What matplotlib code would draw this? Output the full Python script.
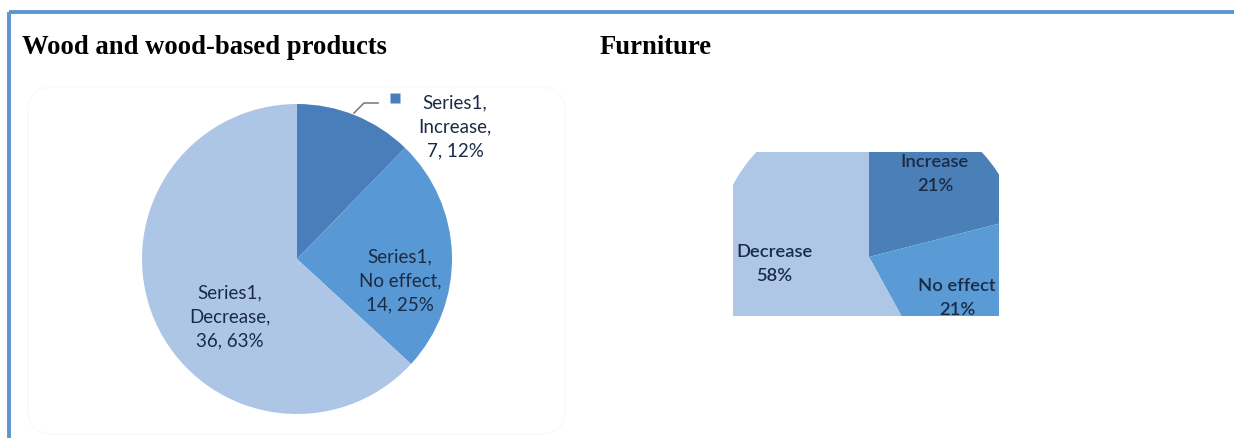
import matplotlib
matplotlib.use("Agg")
import matplotlib.pyplot as plt
from matplotlib.patches import FancyBboxPatch
import numpy as np

W, H = 1234, 439

# ---- data ----
wood_categories = ["Increase", "No effect", "Decrease"]
wood_counts = [7, 14, 36]
wood_pct = [12, 25, 63]
furn_categories = ["Increase", "No effect", "Decrease"]
furn_pct = [21, 21, 58]

titles = ["Wood and wood-based products", "Furniture"]

c_wood = ["#4a7ebb", "#5898d4", "#adc6e6"]
c_furn = ["#4b7fb8", "#5a9bd6", "#aec7e6"]
txt_col = "#1c2b45"
lab_font = ["Lato", "DejaVu Sans"]

def py(y):
    return H - y

fig = plt.figure(figsize=(W / 100, H / 100), dpi=100)
ax = fig.add_axes([0, 0, 1, 1])
ax.set_xlim(0, W)
ax.set_ylim(0, H)
ax.axis("off")

# frame lines
ax.plot([8.5, W], [py(12.5), py(12.5)], color="#5b96d0", lw=2.8, solid_capstyle="butt")
ax.plot([8.5, 8.5], [py(12.5), 0], color="#5b96d0", lw=2.8, solid_capstyle="butt")

# titles
ax.text(22, py(47), titles[0], fontsize=19.2, fontweight="bold",
        family="Liberation Serif", va="center", ha="left")
ax.text(600, py(47), titles[1], fontsize=19.2, fontweight="bold",
        family="Liberation Serif", va="center", ha="left")

# faint chart area
ax.add_patch(FancyBboxPatch((28, 4), 537, py(88) - 4,
                            boxstyle="round,pad=0,rounding_size=25",
                            fc="none", ec="#f9f9f9", lw=1.0))

# left pie
cx, cy, r = 297, py(260), 155
ax.pie(wood_counts, colors=c_wood, startangle=90, counterclock=False,
       center=(cx, cy), radius=r, frame=True,
       wedgeprops=dict(linewidth=0))
ax.set_xlim(0, W)
ax.set_ylim(0, H)
ax.set_aspect("auto")
ax.axis("off")

fs = 13.5
ls = 1.5
ax.text(400, py(281), f"Series1,\n{wood_categories[1]},\n{wood_counts[1]}, {wood_pct[1]}%",
        ha="center", va="center", fontsize=fs, color=txt_col, family=lab_font,
        linespacing=ls)
ax.text(230, py(317), f"Series1,\n{wood_categories[2]},\n{wood_counts[2]}, {wood_pct[2]}%",
        ha="center", va="center", fontsize=fs, color=txt_col, family=lab_font,
        linespacing=ls)
ax.text(455, py(127), f"Series1,\n{wood_categories[0]},\n{wood_counts[0]}, {wood_pct[0]}%",
        ha="center", va="center", fontsize=fs, color=txt_col, family=lab_font,
        linespacing=ls)
ax.plot([395], [py(99)], marker="s", ms=6.5, color=c_wood[0], mec="none")
ax.plot([354, 364, 378], [py(114), py(104), py(104)], color="#808080", lw=1.2)

# right (cropped) pie
x0, x1, y0, y1 = 733, 999, 153, 317
ax2 = fig.add_axes([x0 / W, (H - y1) / H, (x1 - x0) / W, (y1 - y0) / H])
wedges, _ = ax2.pie(furn_pct, colors=c_furn, startangle=90, counterclock=False,
                    center=(869, py(258)), radius=154, frame=True,
                    wedgeprops=dict(linewidth=0))
ax2.set_xlim(x0, x1)
ax2.set_ylim(py(y1), py(y0))
ax2.set_aspect("auto")
ax2.axis("off")
for w in wedges:
    w.set_clip_on(True)
    w.set_clip_path(ax2.patch)
for t, xy in zip([f"{furn_categories[0]}\n{furn_pct[0]}%",
                  f"{furn_categories[1]}\n{furn_pct[1]}%",
                  f"{furn_categories[2]}\n{furn_pct[2]}%"],
                 [(935, 174), (957, 298), (774, 264)]):
    tx = ax2.text(xy[0], py(xy[1]), t, ha="center", va="center", fontsize=13.2,
                  color=txt_col, family=lab_font, fontweight="semibold",
                  linespacing=1.55, clip_on=True)
    tx.set_clip_path(ax2.patch)
ax2.patch.set_visible(False)

fig.savefig("out.png", dpi=100)
